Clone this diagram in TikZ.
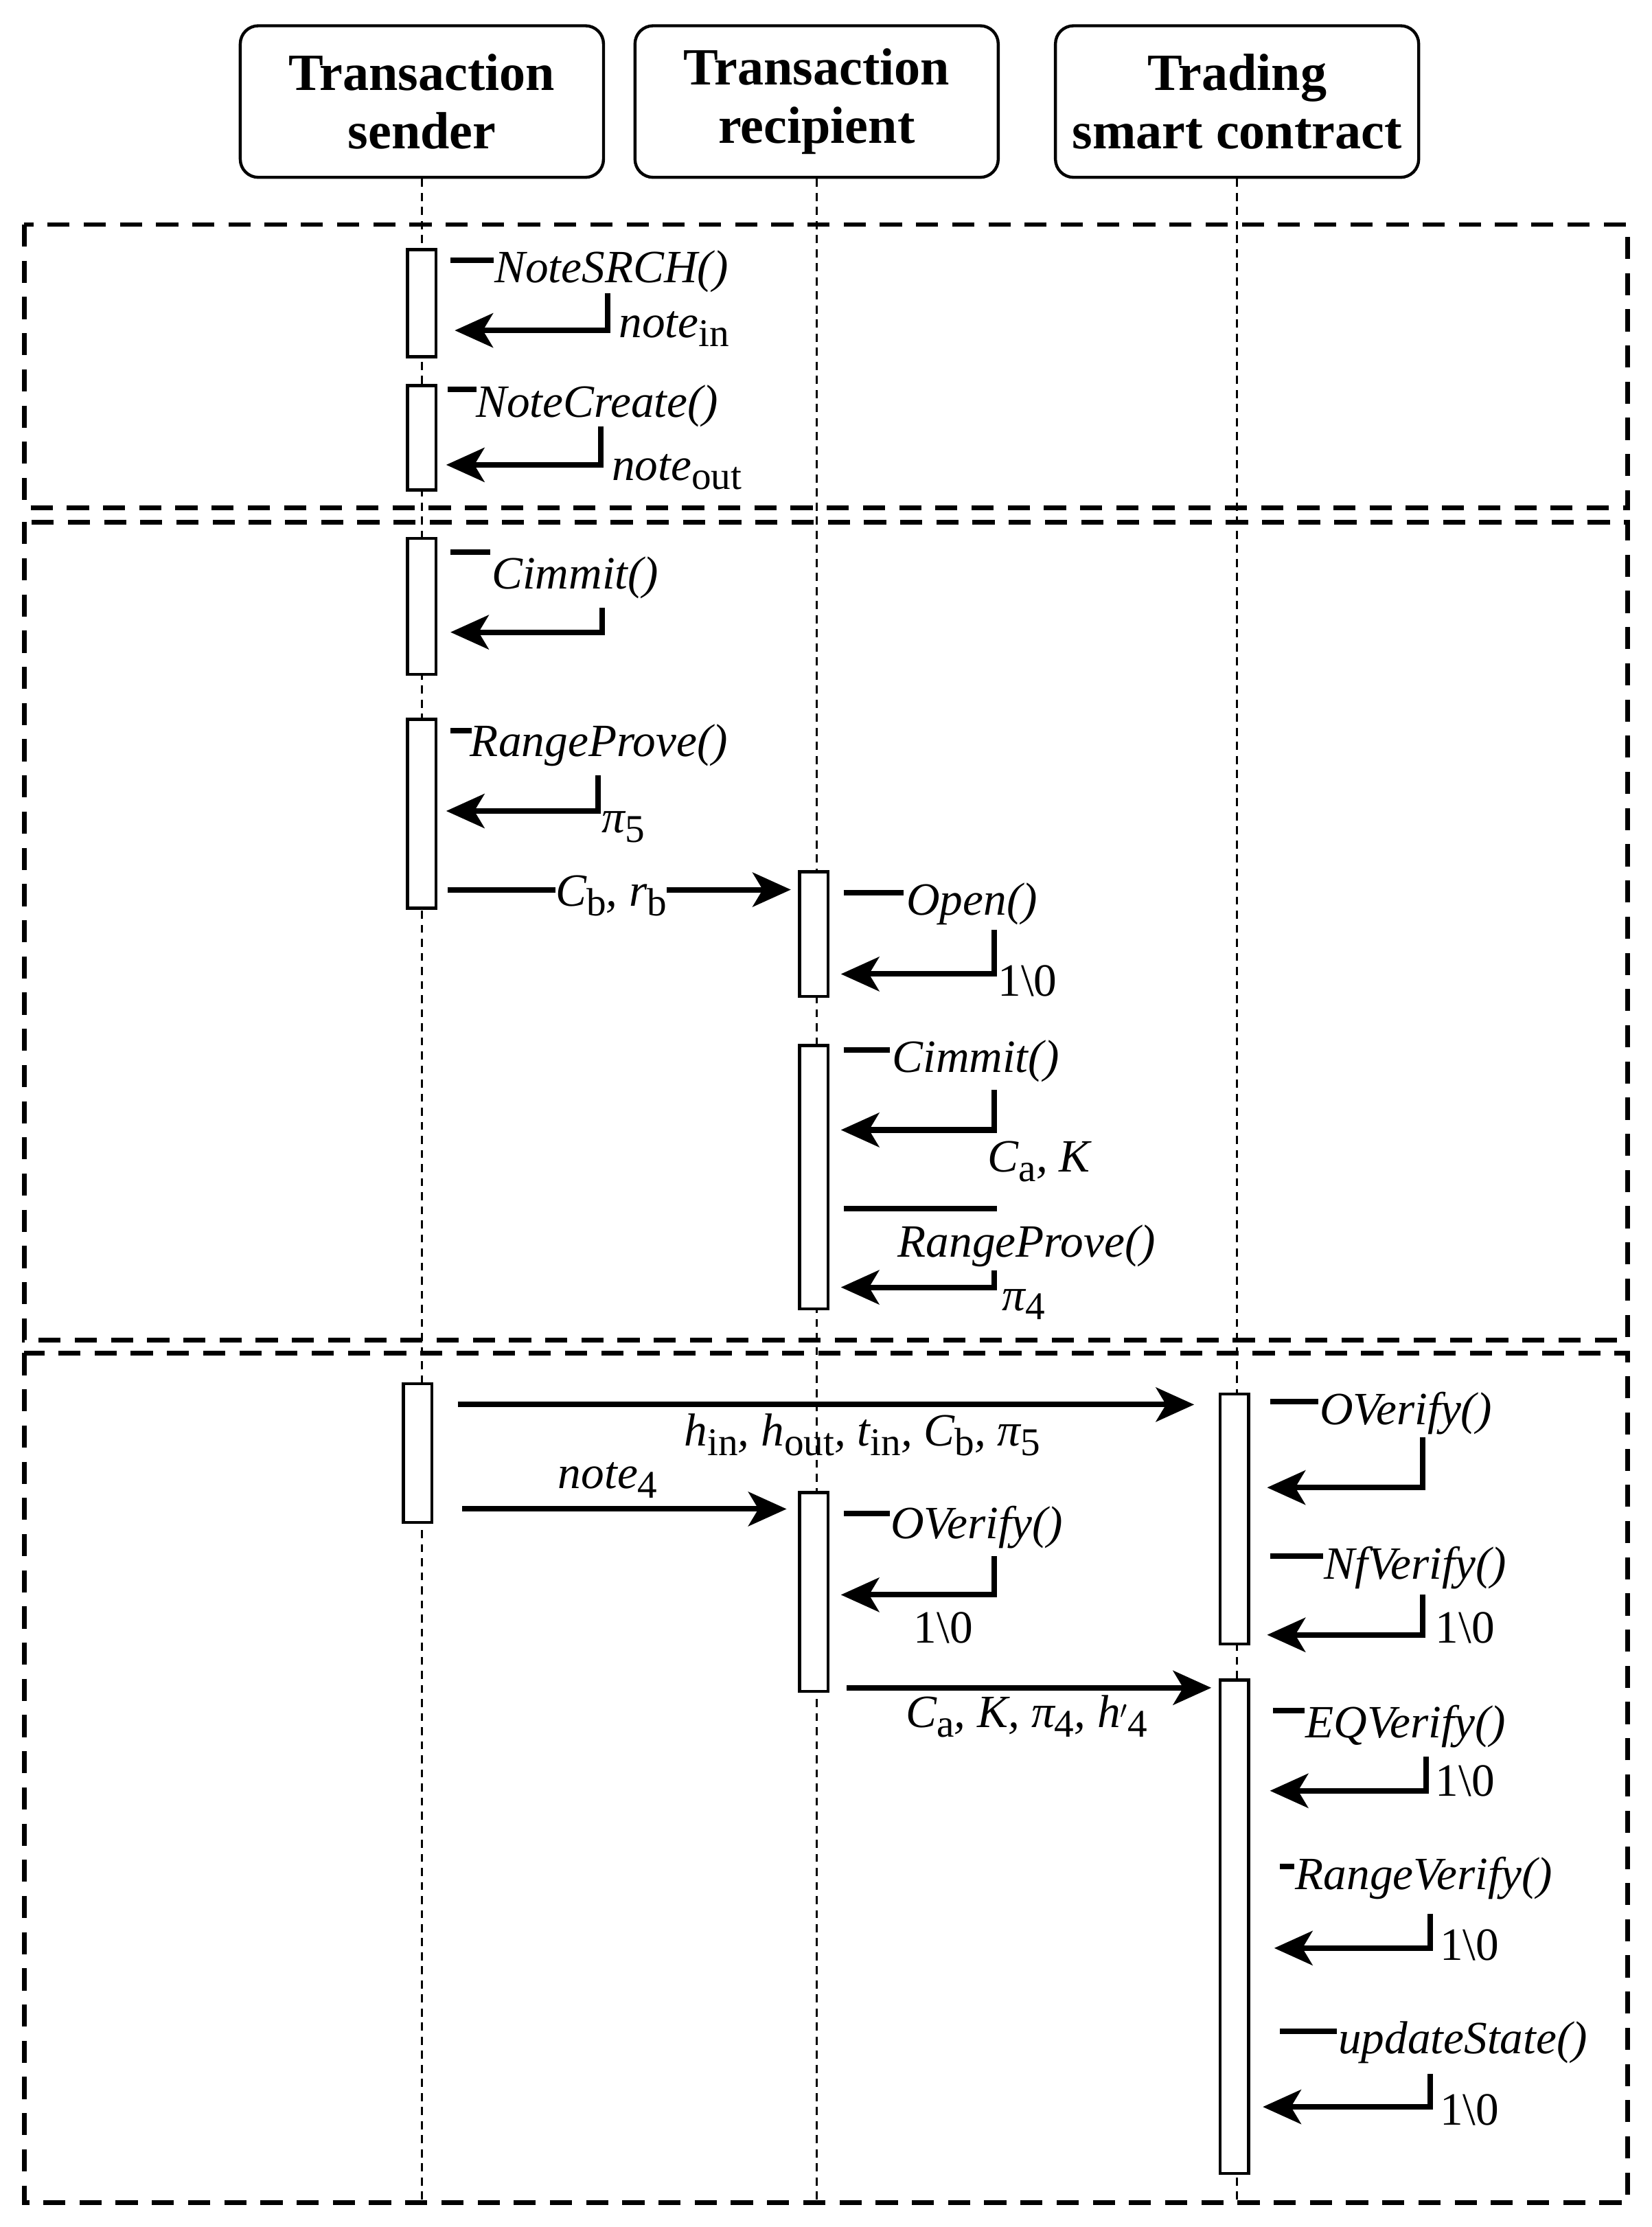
\documentclass[tikz,border=0pt]{standalone}
\usepackage{fontspec}
\setmainfont{Liberation Serif}
\usetikzlibrary{arrows.meta}
\newcommand\sbs[1]{\raisebox{-0.45ex}{\scalebox{0.85}{\upshape #1}}}
\begin{document}
\begin{tikzpicture}[x=0.05cm,y=-0.05cm,
  hdr/.style={draw,line width=3pt,rounded corners=18pt,minimum width=12.7cm,minimum height=5.3cm,align=center,font=\fontsize{52}{58}\selectfont\bfseries},
  act/.style={draw,line width=3pt,fill=white,minimum width=1cm,inner sep=0pt},
  frame/.style={line width=4.5pt,dash pattern=on 22pt off 14pt},
  life/.style={line width=2pt,dash pattern=on 8pt off 6pt},
  msg/.style={line width=5.5pt,-{Stealth[length=38pt,width=34pt,inset=10pt]}},
  seg/.style={line width=5.5pt},
  lab/.style={font=\fontsize{46}{50}\selectfont\itshape,inner sep=1pt},
  ret/.style={font=\fontsize{46}{50}\selectfont,inner sep=1pt}]
\useasboundingbox (0,0) rectangle (1155,1557);
% headers
\node[hdr] (h1) at (295,71) {Transaction\\sender};
\node[hdr] (h2) at (571,71) {Transaction\\recipient};
\node[hdr] (h3) at (865,71) {Trading\\smart contract};
% lifelines
\coordinate (e1) at (295,1540); \coordinate (e2) at (571,1540); \coordinate (e3) at (865,1540);
\draw[life] (h1.south) -- (e1);
\draw[life] (h2.south) -- (e2);
\draw[life] (h3.south) -- (e3);
% frames
\draw[frame] (17,157) rectangle (1138,355);
\draw[frame] (17,365) rectangle (1138,937);
\draw[frame] (17,946) rectangle (1138,1540);
% activations
\node[act,minimum height=3.75cm] (a1) at (295,212) {};
\node[act,minimum height=3.65cm] (a2) at (295,306) {};
\node[act,minimum height=4.75cm] (a3) at (295,424) {};
\node[act,minimum height=6.6cm] (a4) at (295,569) {};
\node[act,minimum height=4.85cm] (a5) at (292,1016) {};
\node[act,minimum height=4.35cm] (b1) at (569,653) {};
\node[act,minimum height=9.2cm] (b2) at (569,823) {};
\node[act,minimum height=6.95cm] (b3) at (569,1113) {};
\node[act,minimum height=8.75cm] (c1) at (863,1062) {};
\node[act,minimum height=17.25cm] (c2) at (863,1347) {};
% self calls: #1 top y, #2 line start x, #3 text x, #4 vertical x, #5 vtop, #6 arrow y, #7 tip x, #8 text y
\newcommand\selfcall[8]{%
  \draw[seg] (#2,#1) -- (#3,#1);
  \node[lab,anchor=west] at (#3,#8) {#5};
}
% 1 NoteSRCH
\draw[seg] (315,182) -- (345,182);
\node[lab,anchor=west] (t1) at (345,190) {NoteSRCH()};
\coordinate (v1) at (425,205); \coordinate (p1) at (318,231);
\draw[msg] (v1) |- (p1);
\node[lab,anchor=west] at (432,230) {note\sbs{in}};
% 2 NoteCreate
\draw[seg] (313,272) -- (333,272);
\node[lab,anchor=west] (t2) at (332,284) {NoteCreate()};
\coordinate (v2) at (420,298); \coordinate (p2) at (312,325);
\draw[msg] (v2) |- (p2);
\node[lab,anchor=west] at (427,330) {note\sbs{out}};
% 3 Cimmit
\draw[seg] (315,386) -- (343,386);
\node[lab,anchor=west] (t3) at (343,404) {Cimmit()};
\coordinate (v3) at (421,425); \coordinate (p3) at (315,442);
\draw[msg] (v3) |- (p3);
% 4 RangeProve
\draw[seg] (315,511) -- (330,511);
\node[lab,anchor=west] (t4) at (328,521) {RangeProve()};
\coordinate (v4) at (418,542); \coordinate (p4) at (312,567);
\draw[msg] (v4) |- (p4);
\node[lab,anchor=west] at (420,578) {π\sbs{5}};
% message Cb rb
\coordinate (m1s) at (313,622); \coordinate (m1e) at (553,622);
\draw[msg] (m1s) -- (m1e) node[lab,midway,fill=white,inner sep=0pt,yshift=-6pt,xshift=-8pt] {C\sbs{b}, r\sbs{b}};
% 5 Open
\draw[seg] (590,624) -- (632,624);
\node[lab,anchor=west] at (633,632) {Open()};
\coordinate (v5) at (695,650); \coordinate (p5) at (588,681);
\draw[msg] (v5) |- (p5);
\node[ret,anchor=west] at (697,686) {1\textbackslash0};
% 6 Cimmit
\draw[seg] (590,734) -- (622,734);
\node[lab,anchor=west] at (623,742) {Cimmit()};
\coordinate (v6) at (695,762); \coordinate (p6) at (588,790);
\draw[msg] (v6) |- (p6);
\node[lab,anchor=west] at (690,812) {C\sbs{a}, K};
% 7 RangeProve
\draw[seg] (590,845) -- (697,845);
\node[lab,anchor=west] at (627,871) {RangeProve()};
\coordinate (v7) at (695,888); \coordinate (p7) at (588,900);
\draw[msg] (v7) |- (p7);
\node[lab,anchor=west] at (700,912) {π\sbs{4}};
% message h...
\coordinate (m2s) at (320,982); \coordinate (m2e) at (835,982);
\draw[msg] (m2s) -- (m2e);
\node[lab] at (603,1003) {h\sbs{in}, h\sbs{out}, t\sbs{in}, C\sbs{b}, π\sbs{5}};
% message note4
\coordinate (m3s) at (323,1055); \coordinate (m3e) at (550,1055);
\draw[msg] (m3s) -- (m3e);
\node[lab] at (425,1035) {note\sbs{4}};
% 8 OVerify recipient
\draw[seg] (590,1058) -- (622,1058);
\node[lab,anchor=west] at (622,1068) {OVerify()};
\coordinate (v8) at (695,1088); \coordinate (p8) at (588,1115);
\draw[msg] (v8) |- (p8);
\node[ret,anchor=west] at (638,1138) {1\textbackslash0};
% message Ca K
\coordinate (m4s) at (592,1180); \coordinate (m4e) at (847,1180);
\draw[msg] (m4s) -- (m4e);
\node[lab] at (718,1200) {C\sbs{a}, K, π\sbs{4}, h\raisebox{0pt}{\upshape$'$}\sbs{4}};
% contract calls
\draw[seg] (888,980) -- (922,980);
\node[lab,anchor=west] at (922,988) {OVerify()};
\coordinate (v9) at (995,1005); \coordinate (p9) at (886,1040);
\draw[msg] (v9) |- (p9);
\draw[seg] (888,1088) -- (925,1088);
\node[lab,anchor=west] at (925,1096) {NfVerify()};
\coordinate (v10) at (995,1115); \coordinate (p10) at (886,1143);
\draw[msg] (v10) |- (p10);
\node[ret,anchor=west] at (1003,1138) {1\textbackslash0};
\draw[seg] (890,1196) -- (912,1196);
\node[lab,anchor=west] at (912,1207) {EQVerify()};
\coordinate (v11) at (997,1228); \coordinate (p11) at (888,1252);
\draw[msg] (v11) |- (p11);
\node[ret,anchor=west] at (1003,1245) {1\textbackslash0};
\draw[seg] (895,1305) -- (905,1305);
\node[lab,anchor=west] at (905,1313) {RangeVerify()};
\coordinate (v12) at (1000,1338); \coordinate (p12) at (891,1362);
\draw[msg] (v12) |- (p12);
\node[ret,anchor=west] at (1006,1360) {1\textbackslash0};
\draw[seg] (895,1420) -- (935,1420);
\node[lab,anchor=west] at (935,1428) {updateState()};
\coordinate (v13) at (1000,1450); \coordinate (p13) at (883,1473);
\draw[msg] (v13) |- (p13);
\node[ret,anchor=west] at (1006,1475) {1\textbackslash0};
\end{tikzpicture}
\end{document}
